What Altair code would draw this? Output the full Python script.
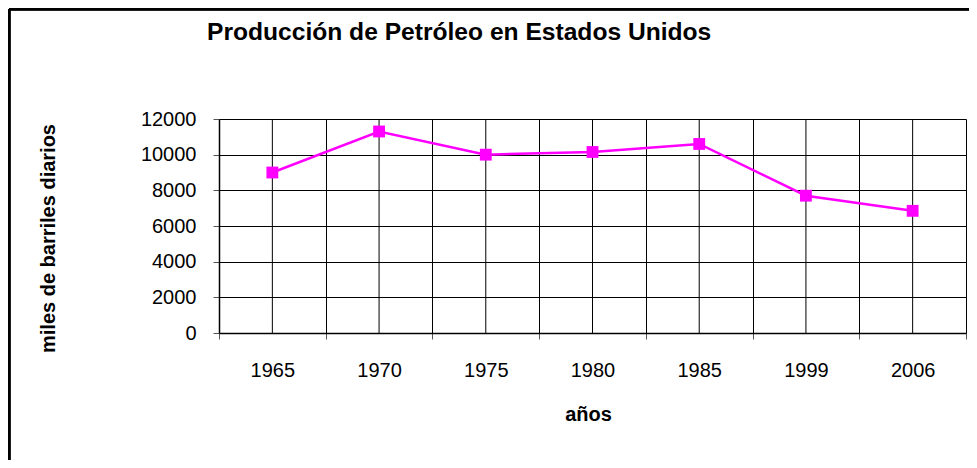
import altair as alt
import pandas as pd

years = ["1965", "1970", "1975", "1980", "1985", "1999", "2006"]
production = [9000, 11300, 10000, 10150, 10600, 7700, 6850]
y_ticks = [0, 2000, 4000, 6000, 8000, 10000, 12000]
title_text = "Producción de Petróleo en Estados Unidos"

df = pd.DataFrame({"year": years, "value": production})
df_title = pd.DataFrame({"t": [title_text]})

FONT = "Liberation Sans"
W, H = 747, 214

x_scale = alt.Scale(type="band", paddingInner=0, paddingOuter=0)
y_scale = alt.Scale(domain=[0, 12000], nice=False)

x_axis = alt.Axis(
    title="años",
    labelAngle=0,
    labelAlign="center",
    labelBaseline="top",
    tickBand="extent",
    grid=True,
    gridColor="#000000",
    gridWidth=1,
    gridOpacity=1,
    domainColor="#000000",
    domainWidth=1.5,
    tickColor="#555555",
    tickSize=6,
    labelPadding=21,
    labelFont=FONT,
    labelFontSize=20,
    labelColor="#000000",
    titleFont=FONT,
    titleFontSize=20,
    titleFontWeight="bold",
    titleColor="#000000",
    titleBaseline="alphabetic",
    titleX=369,
    titleY=87,
    titleAlign="center",
)

y_axis = alt.Axis(
    title="miles de barriles diarios",
    values=y_ticks,
    tickCount=7,
    format="d",
    labelOverlap=False,
    grid=True,
    gridColor="#000000",
    gridWidth=1,
    gridOpacity=1,
    domainColor="#000000",
    domainWidth=1.5,
    tickColor="#555555",
    tickSize=6,
    labelPadding=17,
    labelFont=FONT,
    labelFontSize=20,
    labelColor="#000000",
    titleFont=FONT,
    titleFontSize=20,
    titleFontWeight="bold",
    titleColor="#000000",
    titleAngle=270,
    titleBaseline="alphabetic",
    titleAlign="center",
    titleX=-165,
    titleY=119,
)

x_enc = alt.X("year:N", sort=years, scale=x_scale, axis=x_axis)
y_enc = alt.Y("value:Q", scale=y_scale, axis=y_axis)

base = alt.Chart(df)

center_grid = base.mark_rule(color="#000000", strokeWidth=1).encode(
    x=x_enc,
    y=alt.Y(datum=0, scale=y_scale, axis=y_axis),
    y2=alt.datum(12000),
)

line = base.mark_line(color="#FF00FF", strokeWidth=2.5).encode(x=x_enc, y=y_enc)

points = base.mark_point(
    shape="square", filled=True, color="#FF00FF", size=140, opacity=1
).encode(x=x_enc, y=y_enc)

border_top = base.mark_rule(color="#000000", strokeWidth=2.5).encode(
    x=alt.value(-210), x2=alt.value(800), y=alt.value(-110)
)
border_left = base.mark_rule(color="#000000", strokeWidth=2.5).encode(
    x=alt.value(-210), y=alt.value(-110), y2=alt.value(345)
)

title_mark = alt.Chart(df_title).mark_text(
    font=FONT,
    fontSize=24.6,
    fontWeight="bold",
    color="#000000",
    align="left",
    baseline="alphabetic",
).encode(text="t:N", x=alt.value(-12), y=alt.value(-79))

chart = (
    alt.layer(center_grid, line, points, border_top, border_left, title_mark)
    .properties(
        width=W,
        height=H,
        padding={"left": 211, "top": 111, "right": 3, "bottom": 127},
        autosize=alt.AutoSizeParams(type="none"),
    )
    .configure_view(strokeWidth=0)
    .configure(background="white")
)

chart.save("out.html", embed_options={"renderer": "svg", "actions": False})
